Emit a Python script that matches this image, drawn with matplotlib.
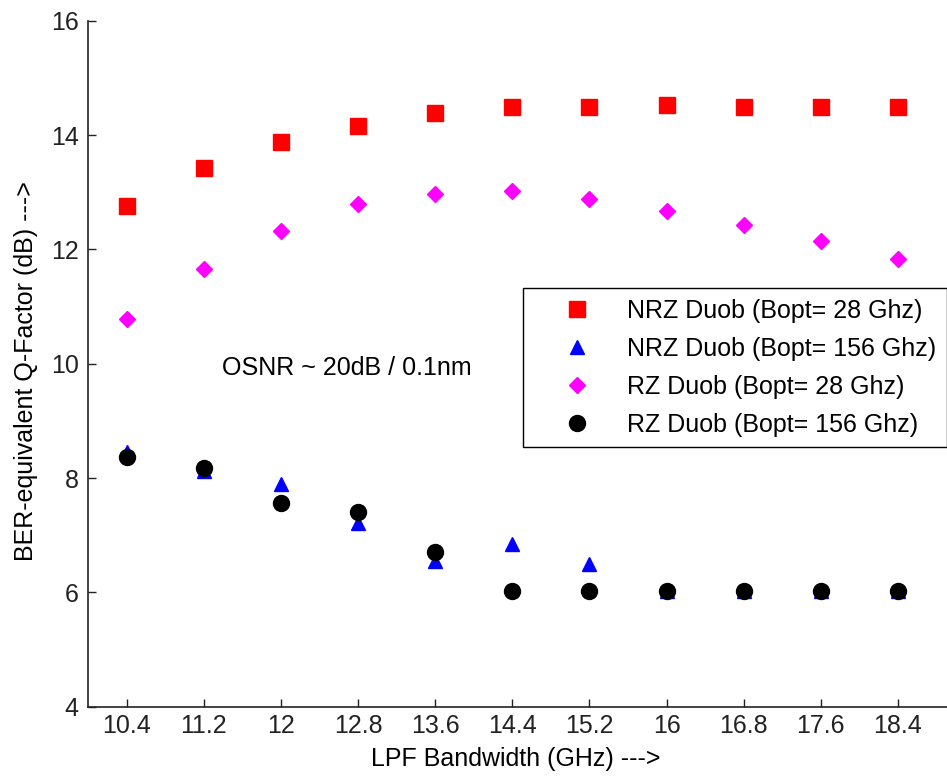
import matplotlib
matplotlib.use('Agg')
import matplotlib.pyplot as plt

plt.rcParams['font.family'] = ['Liberation Sans', 'DejaVu Sans']

bandwidth = [10.4, 11.2, 12.0, 12.8, 13.6, 14.4, 15.2, 16.0, 16.8, 17.6, 18.4]
tick_labels = ['10.4', '11.2', '12', '12.8', '13.6', '14.4', '15.2', '16', '16.8', '17.6', '18.4']

nrz_28 = [12.76, 13.42, 13.88, 14.16, 14.38, 14.49, 14.49, 14.52, 14.49, 14.49, 14.49]
nrz_156 = [8.45, 8.13, 7.90, 7.22, 6.55, 6.85, 6.50, 6.02, 6.02, 6.02, 6.02]
rz_28 = [10.78, 11.66, 12.32, 12.79, 12.97, 13.02, 12.88, 12.67, 12.43, 12.14, 11.83]
rz_156 = [8.36, 8.17, 7.57, 7.41, 6.70, 6.03, 6.03, 6.03, 6.03, 6.03, 6.03]

labels = ['NRZ Duob (Bopt= 28 Ghz)', 'NRZ Duob (Bopt= 156 Ghz)',
          'RZ Duob (Bopt= 28 Ghz)', 'RZ Duob (Bopt= 156 Ghz)']

fig = plt.figure(figsize=(9.47, 7.78), dpi=100)
ax = fig.add_axes([0.0932, 0.0916, 0.9068, 0.8818])

ax.plot(bandwidth, nrz_28, 's', color='red', ms=11.5, mec='red', label=labels[0])
ax.plot(bandwidth, nrz_156, '^', color='blue', ms=10, mec='blue', label=labels[1])
ax.plot(bandwidth, rz_28, 'D', color='magenta', ms=8.5, mec='magenta', label=labels[2])
ax.plot(bandwidth, rz_156, 'o', color='black', ms=11.5, mec='black', label=labels[3])

ax.set_xlim(10, 18.91)
ax.set_ylim(4, 16)
ax.set_xticks(bandwidth)
ax.set_xticklabels(tick_labels)
ax.set_yticks(range(4, 17, 2))

for side in ['top', 'right']:
    ax.spines[side].set_visible(False)
for side in ['left', 'bottom']:
    ax.spines[side].set_color('#222222')
    ax.spines[side].set_linewidth(1.2)

ax.tick_params(direction='in', length=6, width=1, colors='#222222', labelsize=18)
ax.tick_params(axis='x', pad=5)
ax.tick_params(axis='y', pad=7)

ax.set_xlabel('LPF Bandwidth (GHz) --->', fontsize=18)
ax.set_ylabel('BER-equivalent Q-Factor (dB) --->', fontsize=18)
ax.xaxis.set_label_coords(0.498, -0.058)
ax.yaxis.set_label_coords(-0.058, 0.489)

ax.text(11.39, 9.92, 'OSNR ~ 20dB / 0.1nm', ha='left', va='center', fontsize=18)

leg = ax.legend(loc='upper left', bbox_to_anchor=(0.506, 0.610), borderaxespad=0,
                fontsize=18, numpoints=1, handlelength=3.5, handletextpad=0.25,
                labelspacing=0.56, borderpad=0.42, fancybox=False, framealpha=1)
leg.get_frame().set_edgecolor('black')
leg.get_frame().set_linewidth(1.0)

fig.savefig('out.png', dpi=100)
